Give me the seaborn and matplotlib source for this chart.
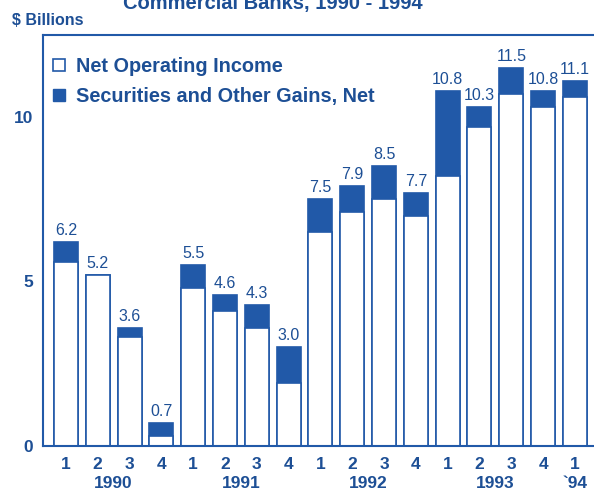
import numpy as np
import pandas as pd
import matplotlib
matplotlib.use("Agg")
import matplotlib.pyplot as plt
from matplotlib.lines import Line2D
import seaborn as sns

# quarterly data, $ billions
quarters = ["1", "2", "3", "4", "1", "2", "3", "4", "1", "2", "3", "4",
            "1", "2", "3", "4", "1"]
periods = ["90Q1", "90Q2", "90Q3", "90Q4", "91Q1", "91Q2", "91Q3", "91Q4",
           "92Q1", "92Q2", "92Q3", "92Q4", "93Q1", "93Q2", "93Q3", "93Q4", "94Q1"]
net_operating = [5.6, 5.2, 3.3, 0.3, 4.8, 4.1, 3.6, 1.9, 6.5, 7.1, 7.5, 7.0,
                 8.2, 9.7, 10.7, 10.3, 10.6]
gains = [0.6, 0.0, 0.3, 0.4, 0.7, 0.5, 0.7, 1.1, 1.0, 0.8, 1.0, 0.7,
         2.6, 0.6, 0.8, 0.5, 0.5]
totals = [6.2, 5.2, 3.6, 0.7, 5.5, 4.6, 4.3, 3.0, 7.5, 7.9, 8.5, 7.7,
          10.8, 10.3, 11.5, 10.8, 11.1]
years = ["1990", "1991", "1992", "1993", "`94"]
year_pos = [1.5, 5.5, 9.5, 13.5, 16]

BLUE = "#2159a8"
TXT = "#1d4f95"

df = pd.DataFrame({"period": periods, "noi": net_operating,
                   "total": np.array(net_operating) + np.array(gains)})

sns.set_style("white")
plt.rcParams["font.family"] = ["Liberation Sans", "DejaVu Sans"]

fig = plt.figure(figsize=(5.94, 4.93), dpi=100)
ax = fig.add_axes([0.0724, 0.0953, 0.934, 0.8337])

# total bar in blue, then the operating income part drawn over it in white
sns.barplot(data=df, x="period", y="total", order=periods, color=BLUE,
            saturation=1, width=0.755, edgecolor=BLUE, linewidth=1.2, ax=ax)
sns.barplot(data=df, x="period", y="noi", order=periods, color="white",
            saturation=1, width=0.755, edgecolor=BLUE, linewidth=1.2, ax=ax)

for i, t in enumerate(totals):
    ax.text(i, t + 0.12, f"{t:.1f}", ha="center", va="bottom",
            fontsize=11.5, color=TXT)

ax.set_xlim(-0.72, 16.72)
ax.set_ylim(0, 12.49)
ax.set_yticks([0, 5, 10])
ax.set_yticklabels(["0", "5", "10"], fontsize=12.5, fontweight="bold", color=TXT)
ax.set_xticks(range(len(quarters)))
ax.set_xticklabels(quarters, fontsize=12.5, fontweight="bold", color=TXT)
ax.tick_params(axis="x", length=0, pad=8)
ax.tick_params(axis="y", length=0, pad=7)
ax.set_xlabel("")
ax.set_ylabel("")
for s in ax.spines.values():
    s.set_color(BLUE)
    s.set_linewidth(1.5)

for y, p in zip(years, year_pos):
    ax.annotate(y, xy=(p, 0), xycoords=("data", "axes fraction"),
                xytext=(0, -27), textcoords="offset points",
                ha="center", va="center", fontsize=12.5, fontweight="bold",
                color=TXT)

handles = [Line2D([], [], marker="s", linestyle="", markersize=8,
                  markerfacecolor="white", markeredgecolor=BLUE, markeredgewidth=1.2),
           Line2D([], [], marker="s", linestyle="", markersize=8,
                  markerfacecolor=BLUE, markeredgecolor=BLUE)]
leg = ax.legend(handles, ["Net Operating Income", "Securities and Other Gains, Net"],
                loc="upper left", bbox_to_anchor=(-0.008, 0.98), frameon=False,
                handlelength=0.7, handletextpad=0.5, labelspacing=0.55,
                borderaxespad=0.3, prop={"size": 14.3, "weight": "bold"})
for t in leg.get_texts():
    t.set_color(TXT)

fig.text(0.02, 0.949, "$ Billions", fontsize=11.5, fontweight="bold",
         color=TXT, ha="left", va="baseline")
fig.text(0.46, 0.982, "Commercial Banks, 1990 - 1994", fontsize=14.5,
         fontweight="bold", color=TXT, ha="center", va="baseline")

fig.savefig("out.png", dpi=100)
